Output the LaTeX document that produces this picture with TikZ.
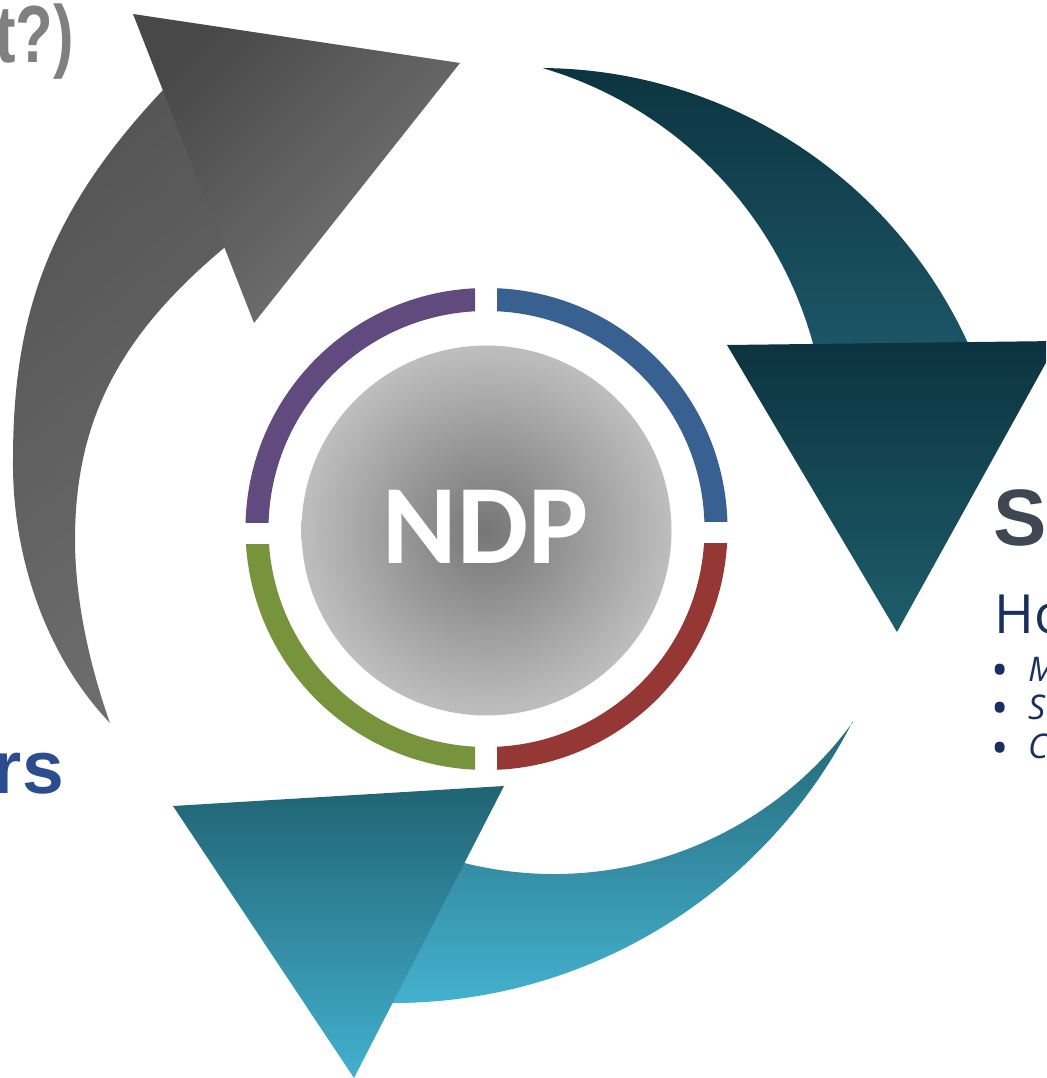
\documentclass[tikz,border=0pt]{standalone}
\usepackage{fontspec}
\newfontfamily\arialf{Liberation Sans}
\newfontfamily\arialnb{Liberation Sans Bold}[FakeStretch=0.76]
\newfontfamily\calf{Carlito}
\newfontfamily\segf{Open Sans}
\definecolor{ringpurple}{HTML}{614A7E}
\definecolor{ringblue}{HTML}{386192}
\definecolor{ringred}{HTML}{953735}
\definecolor{ringgreen}{HTML}{77933C}
\definecolor{trA}{HTML}{0D3440}
\definecolor{trB}{HTML}{1C5667}
\definecolor{thA}{HTML}{0C333F}
\definecolor{thB}{HTML}{1E5D6B}
\definecolor{brA}{HTML}{256878}
\definecolor{brB}{HTML}{44B2D0}
\definecolor{bhA}{HTML}{206473}
\definecolor{bhB}{HTML}{43B0CE}
\definecolor{gbA}{HTML}{545454}
\definecolor{gbB}{HTML}{6E6E6E}
\definecolor{ghA}{HTML}{484848}
\definecolor{ghB}{HTML}{777777}
\definecolor{tgrey}{HTML}{808080}
\definecolor{sgrey}{HTML}{3F4753}
\definecolor{navy}{HTML}{1B2F5E}
\definecolor{rsblue}{HTML}{2B4D8E}
\definecolor{discA}{HTML}{767676}
\definecolor{discB}{HTML}{BEBEBE}
\tikzset{
  ringseg/.style={even odd rule},
  bigbold/.style={font=\arialf\bfseries\fontsize{#1}{#1}\selectfont, inner sep=0pt},
  lighttext/.style={font=\segf\fontsize{#1}{#1}\selectfont, inner sep=0pt, text=navy},
  bulletlbl/.style={font=\segf\itshape\fontsize{34}{34}\selectfont, inner sep=0pt, text=navy, anchor=base west},
  bulletdot/.style={font=\segf\fontsize{46}{46}\selectfont, inner sep=0pt, text=navy, anchor=base, text height=24pt, text depth=0pt},
}
\begin{document}
\begin{tikzpicture}[x=1pt,y=-1pt]
\useasboundingbox (0,0) rectangle (1046,1078);
\clip (0,0) rectangle (1046,1078);

% ---------- top-right dark teal arrow ----------
\shade[top color=trA, bottom color=trB]
  ([shift={(-89.5:472)}]539,540) arc[start angle=-89.5, end angle=-23.5, radius=472]
  -- ([shift={(-14:396)}]431,448) arc[start angle=-14, end angle=-73.6, radius=396]
  -- cycle;
\shade[top color=thA, bottom color=thB] (727,345) -- (1058,341) -- (897,632) -- cycle;

% ---------- bottom light teal arrow ----------
\shade[top color=brA, bottom color=brB]
  ([shift={(27.06:516)}]393,487) arc[start angle=27.06, end angle=91, radius=516]
  -- ([shift={(108:370)}]554,504) arc[start angle=108, end angle=36.1, radius=370]
  -- cycle;
\shade[top color=bhA, bottom color=bhB] (173,806) -- (504,786) -- (354,1078) -- cycle;

% ---------- left grey arrow ----------
\shade[top color=gbA, bottom color=gbB, shading angle=40]
  (110,723) .. controls (45,655) and (12,555) .. (13,460)
  .. controls (13,320) and (45,215) .. (163,90)
  -- (200,55) -- (265,210) -- (224,248)
  .. controls (120,335) and (75,420) .. (75,540)
  .. controls (75,600) and (90,667) .. (110,723)
  -- cycle;
\shade[top color=ghA, bottom color=ghB, shading angle=45] (133,14) -- (460,63) -- (254,323) -- cycle;

% ---------- ring ----------
\begin{scope}
  \clip (0,0) rectangle (475,522);
  \fill[ringpurple, ringseg] (486.5,529) circle[radius=241] (486.5,529) circle[radius=218];
\end{scope}
\begin{scope}
  \clip (497,0) rectangle (1046,521);
  \fill[ringblue, ringseg] (486.5,529) circle[radius=241] (486.5,529) circle[radius=218];
\end{scope}
\begin{scope}
  \clip (497,543) rectangle (1046,1078);
  \fill[ringred, ringseg] (486.5,529) circle[radius=241] (486.5,529) circle[radius=218];
\end{scope}
\begin{scope}
  \clip (0,544) rectangle (475,1078);
  \fill[ringgreen, ringseg] (486.5,529) circle[radius=241] (486.5,529) circle[radius=218];
\end{scope}

% ---------- centre disc ----------
\shade[inner color=discA, outer color=discB] (486.5,530.5) circle[radius=185];
\node[text=white, inner sep=0pt, font=\calf\bfseries\fontsize{113}{113}\selectfont] (ndp) at (485.5,526.5) {NDP};

% ---------- texts ----------
\node[inner sep=0pt, font=\arialnb\fontsize{81}{81}\selectfont, text=tgrey, anchor=base east] (what) at (74,63) {t?)};
\node[bigbold=80, text=sgrey, anchor=base west] (st) at (993,545) {St};
\node[lighttext=54, anchor=base west] (ho) at (994,633) {Ho};
\node[bulletdot] (b1) at (1000,686) {•};
\node[bulletdot] (b2) at (1000,724) {•};
\node[bulletdot] (b3) at (1000,764) {•};
\node[bulletlbl] (m1) at (1028,681) {M};
\node[bulletlbl] (m2) at (1028,719) {S};
\node[bulletlbl] (m3) at (1028,758) {C};
\node[bigbold=75, text=rsblue, anchor=base east] (rs) at (64,793) {rs};
\end{tikzpicture}
\end{document}
